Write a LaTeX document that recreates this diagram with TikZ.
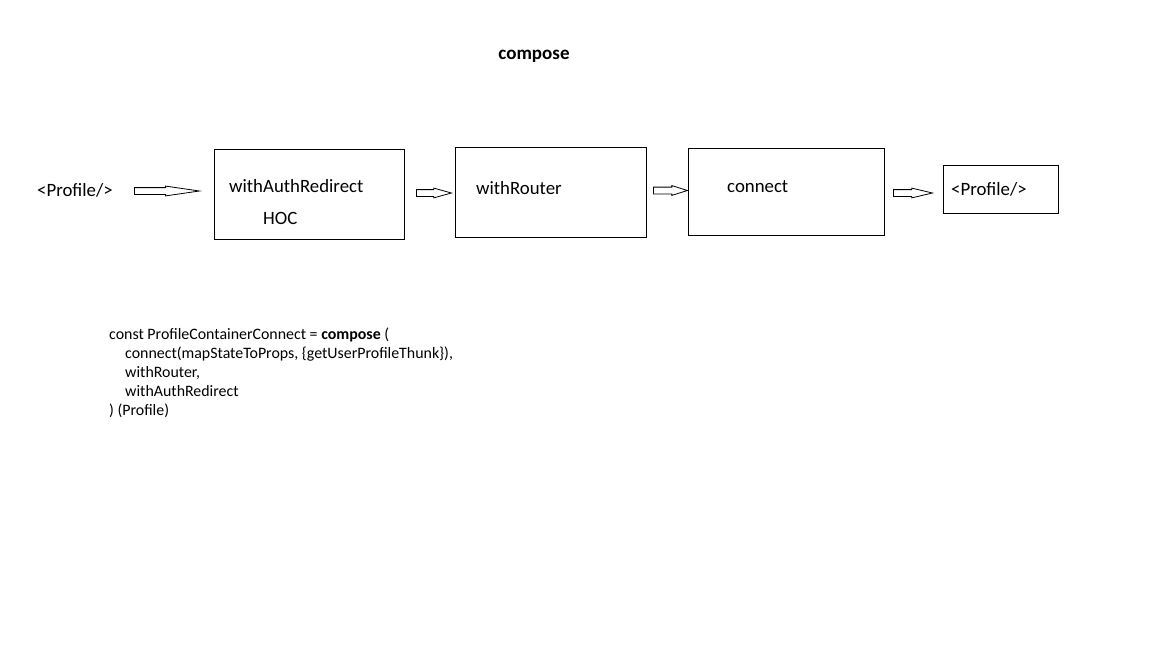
\documentclass[tikz,border=0pt]{standalone}
\usepackage{fontspec}
\setmainfont{Carlito}
\usetikzlibrary{shapes.arrows}
\begin{document}
\begin{tikzpicture}[x=1pt,y=-1pt,
  box/.style={draw=black,line width=0.9pt,inner sep=0pt},
  lbl/.style={anchor=base west,inner sep=0pt,font=\fontsize{18.8}{22}\selectfont},
  code/.style={anchor=base west,inner sep=0pt,font=\fontsize{15.9}{19}\selectfont},
  blockarrow/.style={draw=black,line width=0.8pt,single arrow,inner xsep=0pt,inner ysep=3pt,
    single arrow head extend=1.5pt,anchor=tail}]
\useasboundingbox[fill=white] (0,0) rectangle (1152,648);
% title
\node[anchor=base,inner sep=0pt,font=\fontsize{19}{22}\selectfont\bfseries] (title) at (534,59) {compose};
% boxes
\node[box,anchor=north west,minimum width=190,minimum height=90] (b1) at (214,149) {};
\node[box,anchor=north west,minimum width=191,minimum height=90] (b2) at (455,147) {};
\node[box,anchor=north west,minimum width=196,minimum height=87] (b3) at (688,148) {};
\node[box,anchor=north west,minimum width=115,minimum height=48] (b4) at (943,165) {};
% labels
\node[lbl] (p0) at (37,196) {<Profile/>};
\node[lbl] (t1) at (229,192) {withAuthRedirect};
\node[lbl] (t1b) at (263,224) {HOC};
\node[lbl] (t2) at (476,194) {withRouter};
\node[lbl] (t3) at (727,192) {connect};
\node[lbl] (p1) at (951,195) {<Profile/>};
% arrows
\node[blockarrow,minimum height=65,single arrow tip angle=16.5] (a1) at (134,191) {};
\node[blockarrow,minimum height=35,single arrow tip angle=31] (a2) at (416,193) {};
\node[blockarrow,minimum height=34,single arrow tip angle=35] (a3) at (653,190.5) {};
\node[blockarrow,minimum height=39,single arrow tip angle=26.6] (a4) at (893,193) {};
% code
\node[code] (c1) at (109,339) {const ProfileContainerConnect = \textbf{compose} (};
\node[code] (c2) at (125,358) {connect(mapStateToProps, \{getUserProfileThunk\}),};
\node[code] (c3) at (125,377) {withRouter,};
\node[code] (c4) at (125,396) {withAuthRedirect};
\node[code] (c5) at (109,415) {) (Profile)};
\end{tikzpicture}
\end{document}
